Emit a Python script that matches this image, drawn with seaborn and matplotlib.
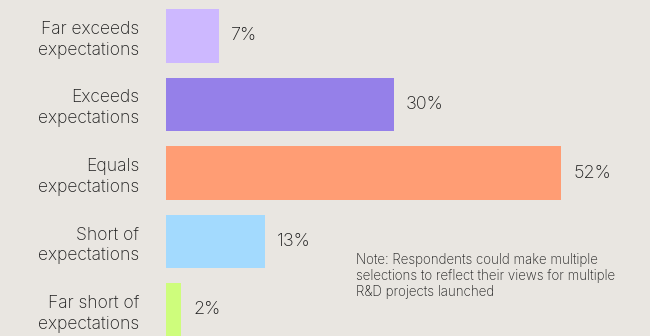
import matplotlib
matplotlib.use("Agg")
import matplotlib.pyplot as plt
import seaborn as sns
import pandas as pd

# Survey results: how launched R&D projects performed against expectations
categories = [
    "Far exceeds\nexpectations",
    "Exceeds\nexpectations",
    "Equals\nexpectations",
    "Short of\nexpectations",
    "Far short of\nexpectations",
]
shares = [7, 30, 52, 13, 2]
bar_colors = ["#CDB8FF", "#9580E9", "#FF9D74", "#A3DAFE", "#CEFD7C"]
note = ("Note: Respondents could make multiple\n"
        "selections to reflect their views for multiple\n"
        "R&D projects launched")

bg = "#E9E6E1"
ink = "#1C1C1C"

sns.set_theme(style="white")
plt.rcParams["font.family"] = ["Inter", "DejaVu Sans"]
plt.rcParams["font.weight"] = "light"

df = pd.DataFrame({"category": categories, "share": shares})

W, H = 650, 336
fig = plt.figure(figsize=(W / 100, H / 100), dpi=100, facecolor=bg)
left_px = 166
ax = fig.add_axes([left_px / W, 0, (W - left_px) / W, 1])
ax.set_facecolor(bg)

sns.barplot(
    data=df, x="share", y="category", hue="category",
    palette=bar_colors, legend=False, orient="h",
    width=0.774, saturation=1, linewidth=0, edgecolor="none", ax=ax,
)

for cont in ax.containers:
    ax.bar_label(cont, fmt="%g%%", padding=8.5, fontsize=13, color=ink)

px_per_unit = 7.6
ax.set_xlim(0, (W - left_px) / px_per_unit)
step = 68.5
ax.set_ylim(4 + (H - 310) / step, -36 / step)

ax.set_xlabel("")
ax.set_ylabel("")
ax.set_xticks([])
ax.tick_params(axis="y", length=0, pad=19.4, labelsize=12.6, labelcolor=ink)
for lbl in ax.get_yticklabels():
    lbl.set_horizontalalignment("right")
    lbl.set_multialignment("right")
    lbl.set_linespacing(1.3)
sns.despine(ax=ax, left=True, bottom=True)

fig.text(355.7 / W, 1 - 253 / H, note, ha="left", va="top",
         fontsize=9.6, color=ink, linespacing=1.2)

fig.savefig("out.png", dpi=100, facecolor=bg)
